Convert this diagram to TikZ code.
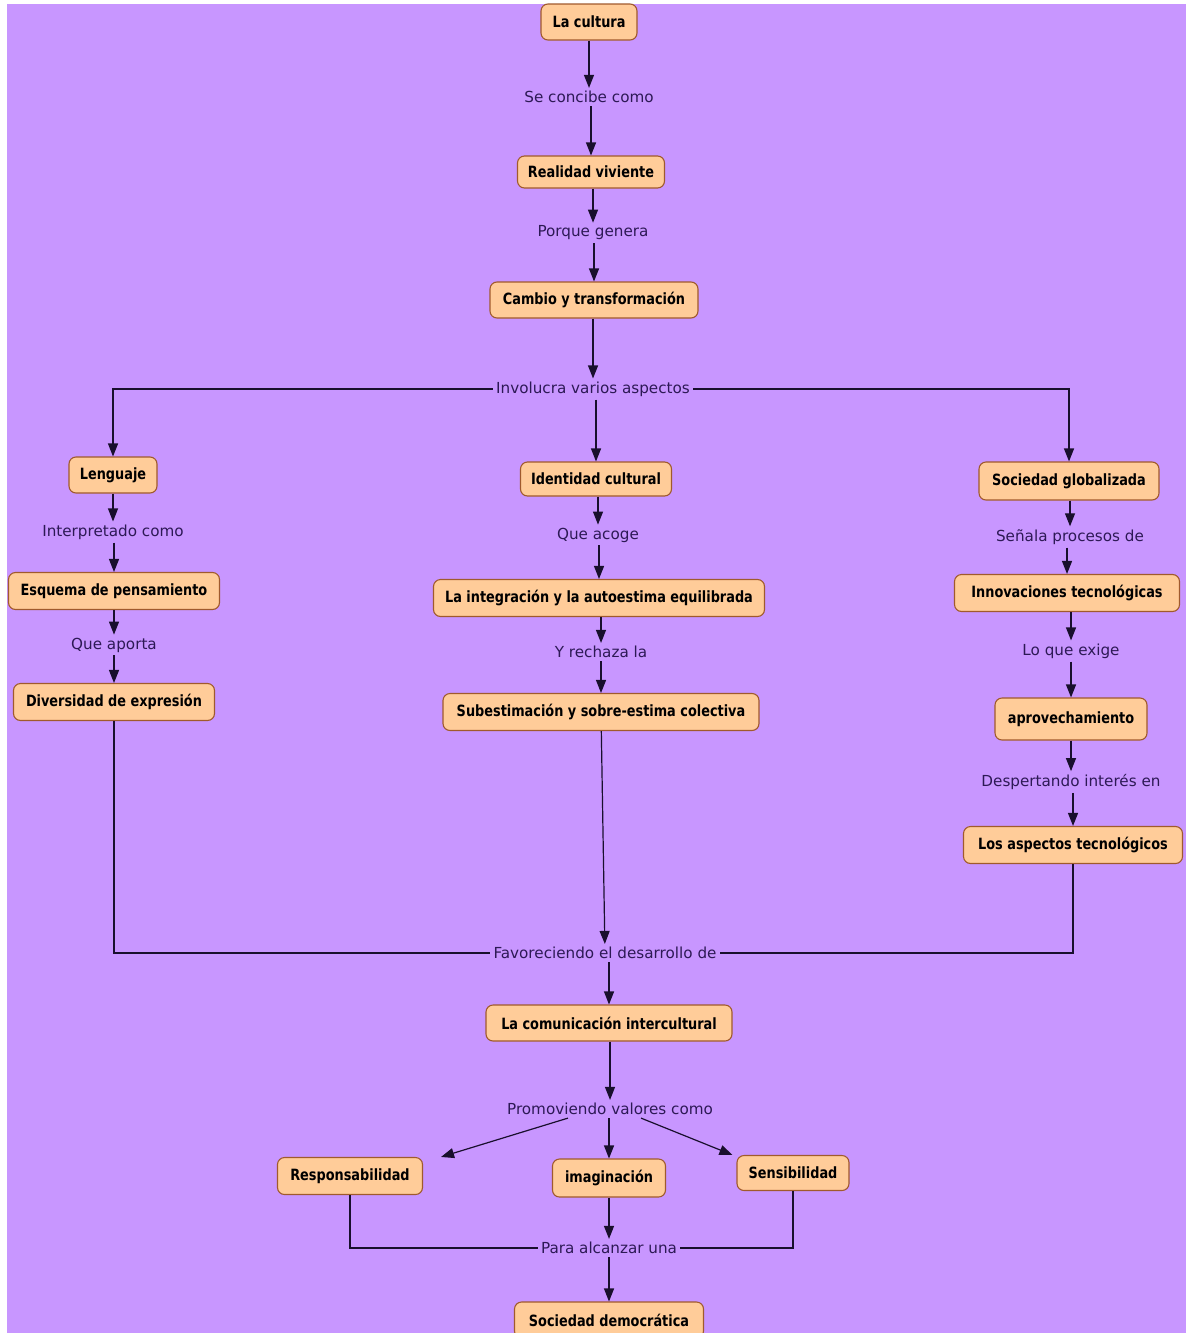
\documentclass[tikz,border=0pt]{standalone}
\usepackage{fontspec}
\setmainfont{DejaVu Sans}
\newfontfamily\boxfont{DejaVu Sans}[FakeStretch=0.83]
\usetikzlibrary{arrows.meta,positioning}
\definecolor{cBg}{RGB}{200,150,255}
\definecolor{cBox}{RGB}{255,204,153}
\definecolor{cEdge}{RGB}{160,90,45}
\definecolor{cLine}{RGB}{25,15,45}
\definecolor{cLbl}{RGB}{45,25,85}

\begin{document}
\begin{tikzpicture}[
    x=1pt, y=-1pt,
    concept/.style={rectangle,rounded corners=7pt,draw=cEdge,line width=1.1pt,fill=cBox,
      minimum height=36pt,inner xsep=5pt,font=\boxfont\fontsize{15.5}{17}\selectfont\bfseries},
    link/.style={font=\fontsize{15.2}{17}\selectfont,text=cLbl,inner sep=3pt},
    arr/.style={-{Triangle[length=13pt,width=10pt]},line width=1.2pt,draw=cLine},
    ln/.style={line width=1.2pt,draw=cLine}
  ]
  % Background
  \fill[white] (0,0) rectangle (1188,1333);
  \fill[cBg] (7,4) rectangle (1186,1333);
  \useasboundingbox (0,0) rectangle (1188,1333);
  % Main trunk
  \node[concept,minimum width=96pt]  (cul) at (589,22) {La cultura};
  \node[link] (concibe) at (589,97) {Se concibe como};
  \node[concept,minimum width=147pt,minimum height=32pt] (real) at (591,172) {Realidad viviente};
  \node[link] (genera) at (593,233) {Porque genera};
  \node[concept,minimum width=208pt] (cambio) at (594,300) {Cambio y transformación};
  \node[link] (inv) at (593,389) {Involucra varios aspectos};
  % Left branch
  \node[concept,minimum width=88pt]  (len) at (113,475) {Lenguaje};
  \node[link] (interp) at (113,532) {Interpretado como};
  \node[concept,minimum width=211pt,minimum height=37pt] (esq) at (114,591) {Esquema de pensamiento};
  \node[link] (aporta) at (114,645) {Que aporta};
  \node[concept,minimum width=201pt,minimum height=37pt] (div) at (114,702) {Diversidad de expresión};
  % Middle branch
  \node[concept,minimum width=151pt,minimum height=34pt] (ident) at (596,479) {Identidad cultural};
  \node[link] (acoge) at (598,535) {Que acoge};
  \node[concept,minimum width=331pt,minimum height=37pt] (integ) at (599,598) {La integración y la autoestima equilibrada};
  \node[link] (rechaza) at (601,652) {Y rechaza la};
  \node[concept,minimum width=316pt,minimum height=37pt] (sub) at (601,712) {Subestimación y sobre-estima colectiva};
  % Right branch
  \node[concept,minimum width=180pt,minimum height=38pt] (glob) at (1069,481) {Sociedad globalizada};
  \node[link] (senala) at (1070,537) {Señala procesos de};
  \node[concept,minimum width=225pt,minimum height=37pt] (innov) at (1067,593) {Innovaciones tecnológicas};
  \node[link] (exige) at (1071,651) {Lo que exige};
  \node[concept,minimum width=152pt,minimum height=42pt] (aprov) at (1071,719) {aprovechamiento};
  \node[link] (desp) at (1071,782) {Despertando interés en};
  \node[concept,minimum width=219pt,minimum height=37pt] (asp) at (1073,845) {Los aspectos tecnológicos};
  % Lower part
  \node[link] (fav) at (605,953) {Favoreciendo el desarrollo de};
  \node[concept,minimum width=246pt] (comu) at (609,1023) {La comunicación intercultural};
  \node[link] (prom) at (610,1109) {Promoviendo valores como};
  \node[concept,minimum width=145pt,minimum height=37pt] (resp) at (350,1176) {Responsabilidad};
  \node[concept,minimum width=113pt,minimum height=38pt] (imag) at (609,1178) {imaginación};
  \node[concept,minimum width=112pt,minimum height=35pt] (sens) at (793,1173) {Sensibilidad};
  \node[link] (alc) at (609,1248) {Para alcanzar una};
  \node[concept,minimum width=189pt] (demo) at (609,1320) {Sociedad democrática};
  % Vertical arrows
  \foreach \a/\b in {cul/concibe, concibe/real, real/genera, genera/cambio, cambio/inv,
      inv/ident, len/interp, interp/esq, esq/aporta, aporta/div,
      ident/acoge, acoge/integ, integ/rechaza, rechaza/sub,
      glob/senala, senala/innov, innov/exige, exige/aprov, aprov/desp, desp/asp,
      fav/comu, comu/prom, prom/imag, imag/alc, alc/demo} {
    \draw[arr] (\b.north |- \a.south) -- (\b.north);
  }
  % Branching
  \draw[arr] (sub) -- (fav);
  \draw[arr] (inv.west) -| (len.north);
  \draw[arr] (inv.east) -| (glob.north);
  \draw[ln] (div.south) |- (fav.west);
  \draw[ln] (asp.south) |- (fav.east);
  \draw[arr] ([xshift=-42pt]prom.south) -- ([xshift=18pt]resp.north east);
  \draw[arr] ([xshift=31pt]prom.south) -- ([xshift=-4pt]sens.north west);
  \draw[ln] (resp.south) |- (alc.west);
  \draw[ln] (sens.south) |- (alc.east);
\end{tikzpicture}
\end{document}
